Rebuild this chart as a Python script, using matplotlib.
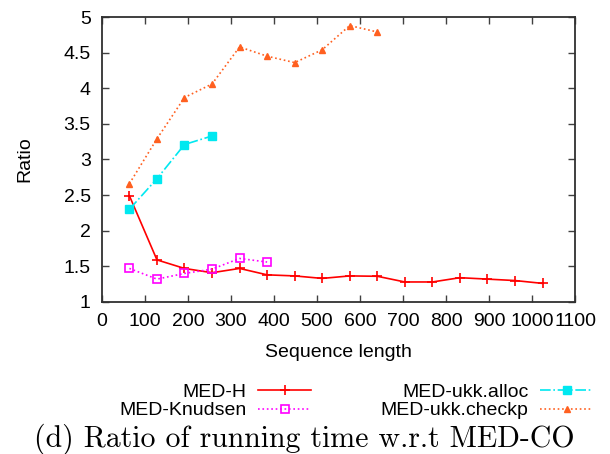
import numpy as np
import matplotlib.pyplot as plt

# Длины последовательностей
seq_len = [64, 128, 192, 256, 320, 384, 448, 512, 576, 640,
           704, 768, 832, 896, 960, 1024]

# Отношения времени работы к MED-CO
med_h = [2.49, 1.59, 1.47, 1.41, 1.47, 1.38, 1.365, 1.33, 1.365, 1.36,
         1.28, 1.28, 1.34, 1.32, 1.30, 1.26]
med_knudsen = [1.47, 1.32, 1.40, 1.46, 1.61, 1.56]
med_ukk_alloc = [2.30, 2.73, 3.21, 3.33]
med_ukk_checkp = [2.66, 3.29, 3.87, 4.06, 4.58, 4.45, 4.36, 4.54, 4.88, 4.79]

plt.rcParams['font.family'] = ['Liberation Sans', 'DejaVu Sans']

fig = plt.figure(figsize=(6.1, 4.54), dpi=100)
ax = fig.add_axes([0.167, 0.335, 0.776, 0.6275])

ax.plot(seq_len, med_h, '-', color='#ff0000', marker='+', ms=7, mew=1.2,
        lw=1.2, label='MED-H')
ax.plot(seq_len[:len(med_knudsen)], med_knudsen, ':', color='#ff00ff',
        marker='s', ms=6, mfc='none', mew=1.2, lw=1.2, label='MED-Knudsen')
ax.plot(seq_len[:len(med_ukk_alloc)], med_ukk_alloc, '-.', color='#00e8f0',
        marker='s', ms=6, lw=1.2, label='MED-ukk.alloc')
ax.plot(seq_len[:len(med_ukk_checkp)], med_ukk_checkp, ':', color='#ff6020',
        marker='^', ms=5, lw=1.2, label='MED-ukk.checkp')

ax.set_xlim(0, 1100)
ax.set_ylim(1, 5)
ax.set_xticks(np.arange(0, 1101, 100))
ax.set_yticks(np.arange(1, 5.01, 0.5))
ax.set_yticklabels(['1', '1.5', '2', '2.5', '3', '3.5', '4', '4.5', '5'])
ax.tick_params(direction='in', length=5, width=1, top=True, right=True,
               labelsize=14, color='#404040', pad=8)
for s in ax.spines.values():
    s.set_color('#303030')
    s.set_linewidth(1.3)

ax.set_xlabel('Sequence length', fontsize=14, labelpad=10)
ax.set_ylabel('Ratio', fontsize=14, labelpad=22)

ax.legend(loc='upper center', bbox_to_anchor=(0.537, -0.251), ncol=2,
          frameon=False, markerfirst=False, fontsize=14, handlelength=2.7,
          handletextpad=0.6, columnspacing=3.6, labelspacing=0.05,
          borderpad=0)

fig.text(0.4992, 0.015, '(d) Ratio of running time w.r.t MED-CO',
         family='cmr10', fontsize=21.5, ha='center', va='baseline')

fig.savefig('out.png', dpi=100)
